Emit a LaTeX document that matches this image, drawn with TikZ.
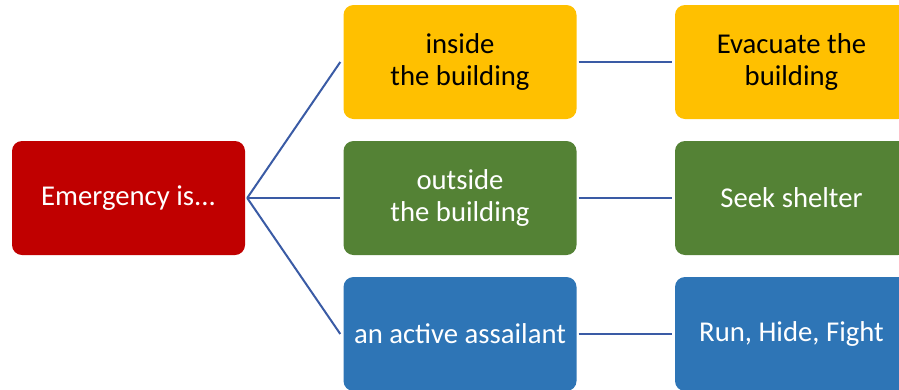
\documentclass[tikz,border=0pt]{standalone}
\usepackage{fontspec}
\setmainfont{Carlito}
\definecolor{cred}{HTML}{C00000}
\definecolor{cyel}{HTML}{FFC000}
\definecolor{cgrn}{HTML}{548235}
\definecolor{cblu}{HTML}{2E75B6}
\definecolor{cline}{HTML}{3A5BA5}
\begin{document}
\begin{tikzpicture}[x=1pt,y=-1pt,
  box/.style={rounded corners=10pt, minimum width=233pt, minimum height=114pt,
    inner sep=0pt, align=center, font=\fontsize{28.7}{31.5}\selectfont},
  conn/.style={draw=cline, line width=2pt}]
\useasboundingbox (0,0) rectangle (899,389);
\clip (0,0) rectangle (899,389);
\node[box, fill=cred, text=white] (root) at (128.5,198) {Emergency is...};
\node[box, fill=cyel, text=black] (a1) at (460,62) {inside\\the building};
\node[box, fill=cgrn, text=white] (a2) at (460,198) {outside\\the building};
\node[box, fill=cblu, text=white] (a3) at (460,334) {an active assailant};
\node[box, fill=cyel, text=black] (b1) at (791.5,62) {Evacuate the\\building};
\node[box, fill=cgrn, text=white] (b2) at (791.5,198) {Seek shelter};
\node[box, fill=cblu, text=white] (b3) at (791.5,334) {Run, Hide, Fight};
\draw[conn] ([xshift=2pt]root.east) -- ([xshift=-3pt]a1.west);
\draw[conn] ([xshift=2pt]root.east) -- ([xshift=-3pt]a2.west);
\draw[conn] ([xshift=2pt]root.east) -- ([xshift=-3pt]a3.west);
\draw[conn] ([xshift=2pt]a1.east) -- ([xshift=-3pt]b1.west);
\draw[conn] ([xshift=2pt]a2.east) -- ([xshift=-3pt]b2.west);
\draw[conn] ([xshift=2pt]a3.east) -- ([xshift=-3pt]b3.west);
\end{tikzpicture}
\end{document}
